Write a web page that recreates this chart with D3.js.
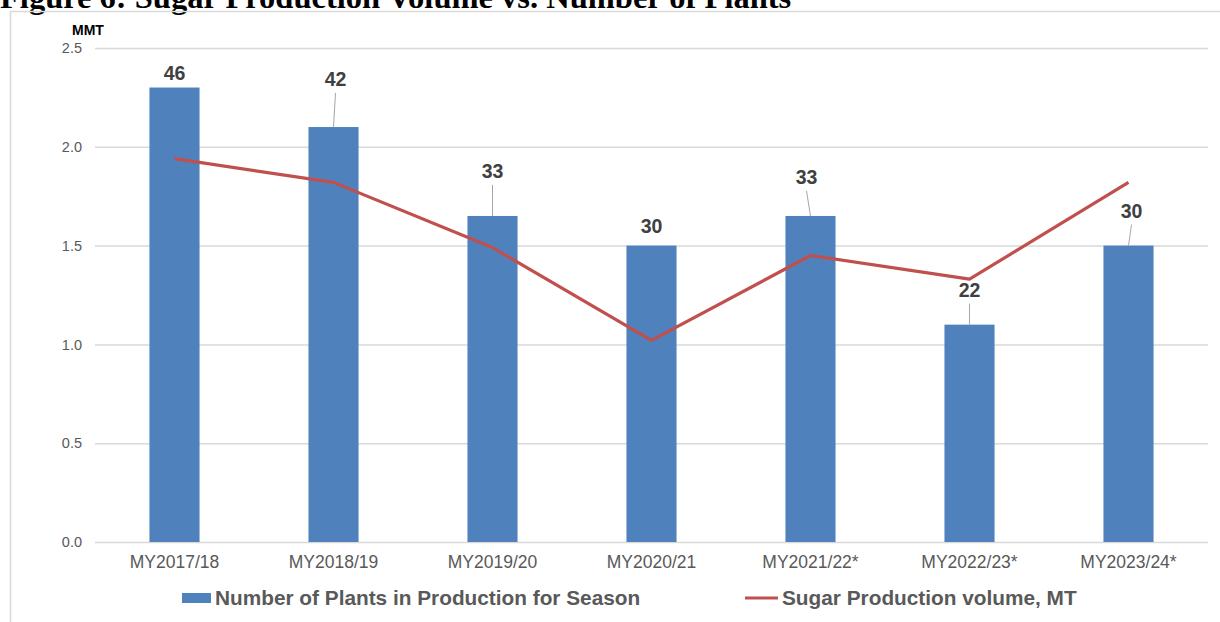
<!DOCTYPE html>
<html>
<head>
<meta charset="utf-8">
<script src="https://cdn.jsdelivr.net/npm/d3@7/dist/d3.min.js"></script>
<style>
  html, body { margin: 0; padding: 0; background: #fff; }
  svg { display: block; }
</style>
</head>
<body>
<svg id="chart" width="1220" height="622"></svg>
<script>
// Marketing years
const categories = ["MY2017/18", "MY2018/19", "MY2019/20", "MY2020/21", "MY2021/22*", "MY2022/23*", "MY2023/24*"];
// Number of plants operating in each season (bars)
const plants = [46, 42, 33, 30, 33, 22, 30];
// Sugar production volume, million metric tons (line)
const sugarMMT = [1.94, 1.82, 1.49, 1.02, 1.45, 1.33, 1.82];
// Left axis ticks
const yTicks = [0.0, 0.5, 1.0, 1.5, 2.0, 2.5];

const svg = d3.select("#chart");
const W = 1220, H = 622;

const plot = { left: 95, right: 1208, top: 48, bottom: 542 };

const x = d3.scaleBand().domain(categories).range([plot.left, plot.right]);
const y = d3.scaleLinear().domain([0, 2.5]).range([plot.bottom, plot.top]);
// Plant counts share the same height frame on a hidden 0–50 scale
const yPlants = d3.scaleLinear().domain([0, 50]).range([plot.bottom, plot.top]);

const barW = x.bandwidth() * 0.315;
const cx = d => x(d) + x.bandwidth() / 2;

// Title (runs off the top edge of the page)
svg.append("text")
  .attr("x", 0).attr("y", 8)
  .attr("font-family", "'Liberation Serif', 'Times New Roman', serif")
  .attr("font-weight", "bold")
  .attr("font-size", 32.5)
  .attr("fill", "#000")
  .text("Figure 6: Sugar Production Volume vs. Number of Plants");

// Chart frame: top and left edges
svg.append("line").attr("x1", 10).attr("x2", W).attr("y1", 11.5).attr("y2", 11.5)
  .attr("stroke", "#d9d9d9").attr("stroke-width", 1.5);
svg.append("line").attr("x1", 10.5).attr("x2", 10.5).attr("y1", 11).attr("y2", H)
  .attr("stroke", "#d9d9d9").attr("stroke-width", 1.5);

// Gridlines and y tick labels
const yAxis = d3.axisLeft(y).tickValues(yTicks).tickFormat(d3.format(".1f"))
  .tickSize(-(plot.right - plot.left)).tickPadding(13);
const gy = svg.append("g").attr("transform", `translate(${plot.left},0)`).call(yAxis);
gy.select(".domain").remove();
gy.selectAll(".tick line").attr("stroke", "#d9d9d9").attr("stroke-width", 1.5);
gy.selectAll(".tick text")
  .attr("font-family", "Arial, 'Liberation Sans', sans-serif")
  .attr("font-size", 14.5).attr("fill", "#595959");

svg.append("text")
  .attr("x", 72).attr("y", 35)
  .attr("font-family", "Arial, 'Liberation Sans', sans-serif")
  .attr("font-weight", "bold").attr("font-size", 14).attr("fill", "#000")
  .text("MMT");

// X axis labels
const xAxis = d3.axisBottom(x).tickSize(0).tickPadding(14);
const gx = svg.append("g").attr("transform", `translate(0,${plot.bottom})`).call(xAxis);
gx.select(".domain").remove();
gx.selectAll(".tick text")
  .attr("font-family", "Arial, 'Liberation Sans', sans-serif")
  .attr("font-size", 17.5).attr("fill", "#595959");

// Bars
svg.append("g").selectAll("rect").data(categories).join("rect")
  .attr("x", d => cx(d) - barW / 2)
  .attr("width", barW)
  .attr("y", (d, i) => yPlants(plants[i]))
  .attr("height", (d, i) => plot.bottom - yPlants(plants[i]))
  .attr("fill", "#4f81bd");

// Production line
const line = d3.line().x(d => cx(d[0])).y(d => y(d[1]));
svg.append("path")
  .datum(categories.map((c, i) => [c, sugarMMT[i]]))
  .attr("d", line)
  .attr("fill", "none").attr("stroke", "#c0504d").attr("stroke-width", 3.2)
  .attr("stroke-linejoin", "round");

// Bar value labels, some lifted above the line with leader lines
const labelLift = [8, 41, 38, 13, 32, 28, 28];
const labelShift = [0, 2, 0, 0, -4, 0, 3];
const hasLeader = [false, true, true, false, true, true, true];
const lg = svg.append("g");
categories.forEach((c, i) => {
  const top = yPlants(plants[i]);
  const lx = cx(c) + labelShift[i];
  const base = top - labelLift[i];
  lg.append("text")
    .attr("x", lx).attr("y", base)
    .attr("text-anchor", "middle")
    .attr("font-family", "Arial, 'Liberation Sans', sans-serif")
    .attr("font-weight", "bold").attr("font-size", 19.5).attr("fill", "#404040")
    .text(plants[i]);
  if (hasLeader[i]) {
    lg.append("line")
      .attr("x1", lx).attr("y1", base + 7)
      .attr("x2", cx(c)).attr("y2", top)
      .attr("stroke", "#a6a6a6").attr("stroke-width", 1);
  }
});

// Legend
const leg = svg.append("g")
  .attr("font-family", "Arial, 'Liberation Sans', sans-serif")
  .attr("font-weight", "bold").attr("font-size", 20.8).attr("fill", "#595959");
leg.append("rect").attr("x", 182).attr("y", 593).attr("width", 29).attr("height", 10).attr("fill", "#4f81bd");
leg.append("text").attr("x", 215).attr("y", 605).text("Number of Plants in Production for Season");
leg.append("line").attr("x1", 745).attr("x2", 778).attr("y1", 598).attr("y2", 598)
  .attr("stroke", "#c0504d").attr("stroke-width", 3.2);
leg.append("text").attr("x", 782).attr("y", 605).text("Sugar Production volume, MT");
</script>
</body>
</html>
